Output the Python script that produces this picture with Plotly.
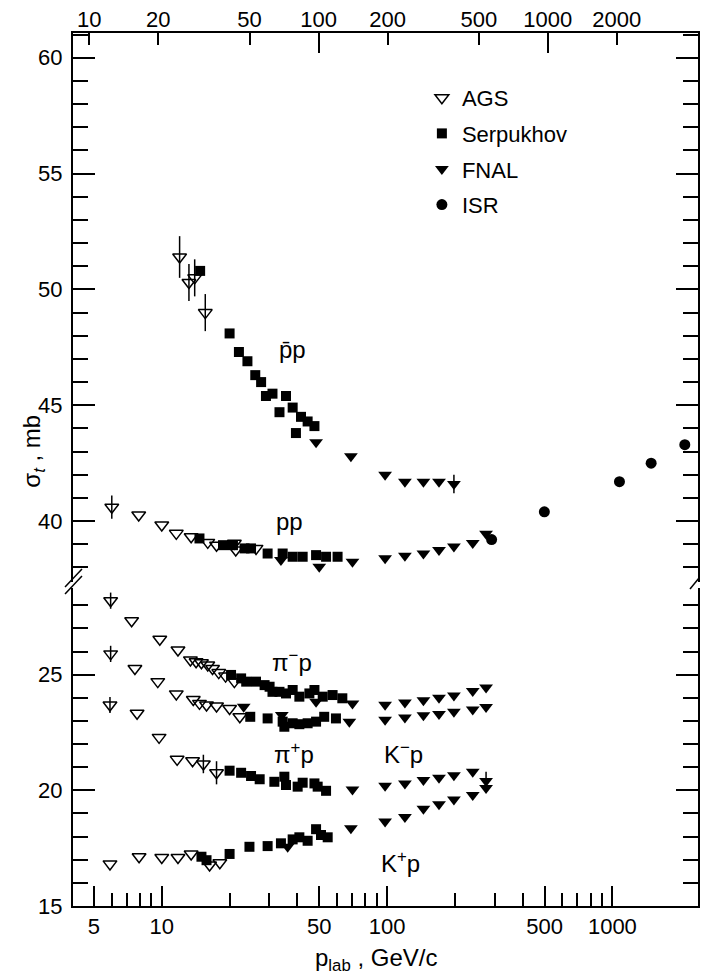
import math
import plotly.graph_objects as go

# ---------------- data (p_lab in GeV/c, sigma_tot in mb) ----------------
# pbar-p
pbp_ags_x = [12.0, 13.2, 14.0, 15.6]
pbp_ags_y = [51.4, 50.3, 50.5, 49.0]
pbp_ags_e = [0.9, 0.8, 0.8, 0.8]
pbp_ser_x = [14.8, 20.0, 22.0, 24.0, 26.0, 27.6, 29.0, 31.0, 33.3, 35.6, 38.1, 39.4, 41.5, 44.4, 47.6]
pbp_ser_y = [50.8, 48.1, 47.3, 46.9, 46.3, 46.0, 45.4, 45.5, 44.7, 45.4, 44.9, 43.8, 44.5, 44.3, 44.1]
pbp_fnal_x = [48.4, 69.1, 98.0, 120.0, 145.0, 170.0, 198.0]
pbp_fnal_y = [43.4, 42.8, 42.0, 41.7, 41.7, 41.7, 41.6]
pbp_fnal_e = [0, 0, 0, 0, 0, 0, 0.4]

# pp
pp_ags_x = [6.0, 7.9, 10.0, 11.6, 13.5, 16.0, 17.5, 21.0, 21.3, 26.2]
pp_ags_y = [40.6, 40.26, 39.83, 39.47, 39.32, 39.08, 38.96, 39.04, 38.75, 38.82]
pp_ags_e = [0.5, 0, 0, 0, 0, 0, 0, 0, 0, 0]
pp_ser_x = [14.7, 18.7, 20.7, 23.3, 24.9, 29.5, 34.4, 38.1, 42.2, 48.4, 53.6, 60.3]
pp_ser_y = [39.25, 38.96, 38.96, 38.82, 38.82, 38.6, 38.6, 38.46, 38.46, 38.53, 38.46, 38.46]
pp_fnal_x = [33.8, 50.0, 70.2, 98.0, 120.0, 145.0, 170.0, 198.0, 240.0, 275.0]
pp_fnal_y = [38.32, 38.03, 38.24, 38.4, 38.5, 38.6, 38.75, 38.9, 39.05, 39.45]
pp_isr_x = [291, 499, 1075, 1486, 2096]
pp_isr_y = [39.2, 40.4, 41.7, 42.5, 43.3]

# pi- p
pim_ags_x = [5.93, 7.35, 9.8, 11.8, 13.4, 14.2, 15.0, 16.0, 16.8, 17.9, 19.2, 21.0]
pim_ags_y = [28.2, 27.33, 26.53, 26.07, 25.64, 25.56, 25.52, 25.42, 25.27, 25.09, 24.94, 24.7]
pim_ags_e = [0.35, 0, 0, 0, 0, 0, 0, 0, 0, 0, 0, 0]
pim_ser_x = [20.3, 22.5, 23.7, 26.2, 28.6, 30.1, 31.0, 33.3, 35.6, 38.1, 40.8, 45.2, 47.6, 51.8, 57.3, 63.3]
pim_ser_y = [24.99, 24.84, 24.7, 24.7, 24.55, 24.48, 24.26, 24.26, 24.19, 24.34, 24.05, 24.19, 24.34, 24.05, 24.12, 23.98]
pim_fnal_x = [48.4, 70.2, 98.0, 120.0, 145.0, 170.0, 198.0, 240.0, 275.0]
pim_fnal_y = [23.83, 23.76, 23.7, 23.8, 23.9, 24.0, 24.1, 24.3, 24.45]

# pi+ p
pip_ags_x = [5.93, 7.6, 9.6, 11.6, 13.8, 14.7, 15.8, 17.5, 20.0, 22.2]
pip_ags_y = [25.9, 25.27, 24.7, 24.17, 23.93, 23.76, 23.69, 23.65, 23.54, 23.18]
pip_ags_e = [0.35, 0, 0, 0, 0, 0, 0, 0, 0, 0]
pip_ser_x = [24.7, 29.5, 34.4, 35.0, 38.1, 40.8, 44.4, 48.4, 52.6, 59.3]
pip_ser_y = [23.18, 23.11, 22.97, 22.75, 22.9, 22.86, 22.9, 22.97, 23.18, 23.11]
pip_fnal_x = [23.1, 34.1, 68.0, 98.0, 120.0, 145.0, 170.0, 198.0, 240.0, 275.0]
pip_fnal_y = [23.61, 23.26, 22.97, 23.05, 23.15, 23.25, 23.3, 23.4, 23.5, 23.6]

# K- p
kmp_ags_x = [5.89, 7.77, 9.73, 11.7, 13.7, 15.3, 17.5]
kmp_ags_y = [23.69, 23.33, 22.29, 21.34, 21.28, 21.14, 20.76]
kmp_ags_e = [0.35, 0, 0, 0, 0, 0.4, 0.5]
kmp_ser_x = [20.0, 22.5, 24.9, 27.2, 31.6, 35.0, 35.6, 40.1, 42.2, 47.6, 49.2, 53.6]
kmp_ser_y = [20.85, 20.76, 20.62, 20.48, 20.37, 20.59, 20.23, 20.16, 20.33, 20.3, 20.16, 19.98]
kmp_fnal_x = [70.2, 98.0, 120.0, 145.0, 170.0, 198.0, 240.0, 275.0]
kmp_fnal_y = [20.04, 20.2, 20.3, 20.45, 20.55, 20.65, 20.8, 20.4]
kmp_fnal_e = [0, 0, 0, 0, 0, 0, 0, 0.4]

# K+ p
kpp_ags_x = [5.89, 7.93, 10.0, 11.8, 13.5, 16.3, 18.1]
kpp_ags_y = [16.82, 17.13, 17.1, 17.1, 17.25, 16.77, 16.87]
kpp_ser_x = [15.0, 15.8, 20.0, 24.5, 29.5, 33.8, 38.1, 40.8, 44.4, 48.4, 50.9, 54.5]
kpp_ser_y = [17.13, 16.98, 17.25, 17.56, 17.59, 17.71, 17.88, 17.97, 17.82, 18.32, 18.07, 17.97]
kpp_fnal_x = [36.2, 69.1, 98.0, 120.0, 145.0, 170.0, 198.0, 240.0, 275.0]
kpp_fnal_y = [17.56, 18.36, 18.65, 18.85, 19.2, 19.4, 19.6, 19.8, 20.1]

# axis ticks
bottom_major = [5, 10, 50, 100, 500, 1000]
bottom_minor = [6, 7, 8, 9, 20, 30, 40, 60, 70, 80, 90, 200, 300, 400, 600, 700, 800, 900]
top_ticks = [10, 20, 50, 100, 200, 500, 1000, 2000]
top_long = [100, 1000]
upper_major = [40, 45, 50, 55, 60]
lower_major = [15, 20, 25]

# reaction labels: (text, p_lab, sigma, axis)
labels = [
    ("p̄p", 38, 47.4, "y2"),
    ("pp", 37, 40.0, "y2"),
    ("π<sup>−</sup>p", 38, 25.6, "y"),
    ("π<sup>+</sup>p", 38.5, 21.6, "y"),
    ("K<sup>−</sup>p", 118, 21.6, "y"),
    ("K<sup>+</sup>p", 115, 16.9, "y"),
]

# ---------------- figure ----------------
FONT = "Liberation Sans, Arial, sans-serif"
fig = go.Figure()

styles = {
    "AGS": dict(symbol="triangle-down-open", size=12, color="black", line=dict(width=1.5, color="black")),
    "Serpukhov": dict(symbol="square", size=10, color="black"),
    "FNAL": dict(symbol="triangle-down", size=12, color="black"),
    "ISR": dict(symbol="circle", size=11, color="black"),
}

def add(exp, xs, ys, yaxis, errs=None, first=False):
    kw = {}
    if errs is not None:
        kw["error_y"] = dict(type="data", array=errs, visible=True, width=0, thickness=1.5, color="black")
    fig.add_trace(go.Scatter(
        x=xs, y=ys, mode="markers", name=exp, legendgroup=exp, showlegend=first,
        marker=styles[exp], xaxis="x", yaxis=yaxis, hoverinfo="x+y", **kw))

add("AGS", pbp_ags_x, pbp_ags_y, "y2", pbp_ags_e, first=True)
add("Serpukhov", pbp_ser_x, pbp_ser_y, "y2", first=True)
add("FNAL", pbp_fnal_x, pbp_fnal_y, "y2", pbp_fnal_e, first=True)
add("ISR", pp_isr_x, pp_isr_y, "y2", first=True)
add("AGS", pp_ags_x, pp_ags_y, "y2", pp_ags_e)
add("Serpukhov", pp_ser_x, pp_ser_y, "y2")
add("FNAL", pp_fnal_x, pp_fnal_y, "y2")
add("AGS", pim_ags_x, pim_ags_y, "y", pim_ags_e)
add("Serpukhov", pim_ser_x, pim_ser_y, "y")
add("FNAL", pim_fnal_x, pim_fnal_y, "y")
add("AGS", pip_ags_x, pip_ags_y, "y", pip_ags_e)
add("Serpukhov", pip_ser_x, pip_ser_y, "y")
add("FNAL", pip_fnal_x, pip_fnal_y, "y")
add("AGS", kmp_ags_x, kmp_ags_y, "y", kmp_ags_e)
add("Serpukhov", kmp_ser_x, kmp_ser_y, "y")
add("FNAL", kmp_fnal_x, kmp_fnal_y, "y", kmp_fnal_e)
add("AGS", kpp_ags_x, kpp_ags_y, "y")
add("Serpukhov", kpp_ser_x, kpp_ser_y, "y")
add("FNAL", kpp_fnal_x, kpp_fnal_y, "y")

# empty traces so that the top (second) axes are created and drawn
for xa in ("x2", "x3"):
    fig.add_trace(go.Scatter(x=top_ticks, y=[None] * len(top_ticks), mode="markers",
                             xaxis=xa, yaxis="y2", showlegend=False, hoverinfo="skip"))

# annotations on a log axis take log10 positions
for txt, lx, ly, ax in labels:
    fig.add_annotation(x=math.log10(lx), y=ly, xref="x", yref=ax, text=txt, showarrow=False,
                       font=dict(family=FONT, size=24, color="black"))

# geometry (pixels)
L, R, T, B = 73, 3, 33, 68
W, H = 703, 974
pw, ph = W - L - R, H - T - B
lower_top_px = 588   # top of lower panel
upper_bot_px = 582   # bottom of upper panel
def py(p):  # pixel y -> paper fraction
    return (H - B - p) / ph
def px(p):
    return (p - L) / pw

axis_common = dict(showline=True, linecolor="black", linewidth=2, ticks="inside",
                   tickcolor="black", tickwidth=1.5, showgrid=False, zeroline=False,
                   tickfont=dict(family=FONT, size=22, color="black"))

fig.update_layout(
    width=W, height=H, margin=dict(l=L, r=R, t=T, b=B),
    paper_bgcolor="white", plot_bgcolor="white",
    font=dict(family=FONT, size=22, color="black"),
    xaxis=dict(type="log", range=[0.606, 3.380], anchor="y", tickmode="array",
               tickvals=bottom_major, ticktext=[str(v) for v in bottom_major], ticklen=20,
               minor=dict(tickmode="array", tickvals=bottom_minor, ticklen=13, ticks="inside",
                          tickcolor="black", tickwidth=1.5),
               **axis_common),
    xaxis2=dict(type="log", range=[0.929, 3.655], overlaying="x", anchor="y2", side="top",
                tickmode="array", tickvals=top_ticks, ticktext=[str(v) for v in top_ticks],
                ticklen=12, ticklabelstandoff=-5, **axis_common),
    xaxis3=dict(type="log", range=[0.929, 3.655], overlaying="x", anchor="y2", side="top",
                tickmode="array", tickvals=top_long, showticklabels=False, ticklen=20,
                showline=False, ticks="inside", tickcolor="black", tickwidth=1.5,
                showgrid=False, zeroline=False),
    yaxis=dict(domain=[0, py(lower_top_px)], range=[15, 15 + (906 - lower_top_px) / 23.13],
               anchor="x", tickmode="array", tickvals=lower_major, ticklen=22, mirror="ticks",
               minor=dict(dtick=1, tick0=15, ticklen=15, ticks="inside", tickcolor="black", tickwidth=1.5),
               ticklabelstandoff=4, **axis_common),
    yaxis2=dict(domain=[py(upper_bot_px), 1], range=[37.37, 61.07], anchor="x",
                tickmode="array", tickvals=upper_major, ticklen=22, mirror="ticks",
                minor=dict(dtick=1, tick0=40, ticklen=15, ticks="inside", tickcolor="black", tickwidth=1.5),
                ticklabelstandoff=4, **axis_common),
    legend=dict(x=px(423), y=py(77), xanchor="left", yanchor="top", bgcolor="rgba(0,0,0,0)",
                font=dict(family=FONT, size=22, color="black"), tracegroupgap=4),
    showlegend=True,
)

# axis titles
fig.add_annotation(x=px(377), y=py(959), xref="paper", yref="paper", yanchor="middle",
                   text="p<sub>lab</sub> , GeV/c", showarrow=False,
                   font=dict(family=FONT, size=24, color="black"))
fig.add_annotation(x=px(16), y=py(451), xref="paper", yref="paper",
                   text="σ<sub><i>t</i></sub> , mb", showarrow=False, textangle=-90,
                   font=dict(family=FONT, size=24, color="black"))

# axis-break marks
for dy in (0, 7):
    fig.add_shape(type="line", xref="paper", yref="paper",
                  x0=px(65), y0=py(594 - dy), x1=px(82), y1=py(576 - dy),
                  line=dict(color="black", width=1.5))
fig.add_shape(type="line", xref="paper", yref="paper",
              x0=px(692), y0=py(589), x1=px(701), y1=py(578),
              line=dict(color="black", width=1.5))

fig.write_html("out.html", config={"displayModeBar": False},
               post_script="document.body.style.margin='0';document.body.style.overflow='hidden';")
